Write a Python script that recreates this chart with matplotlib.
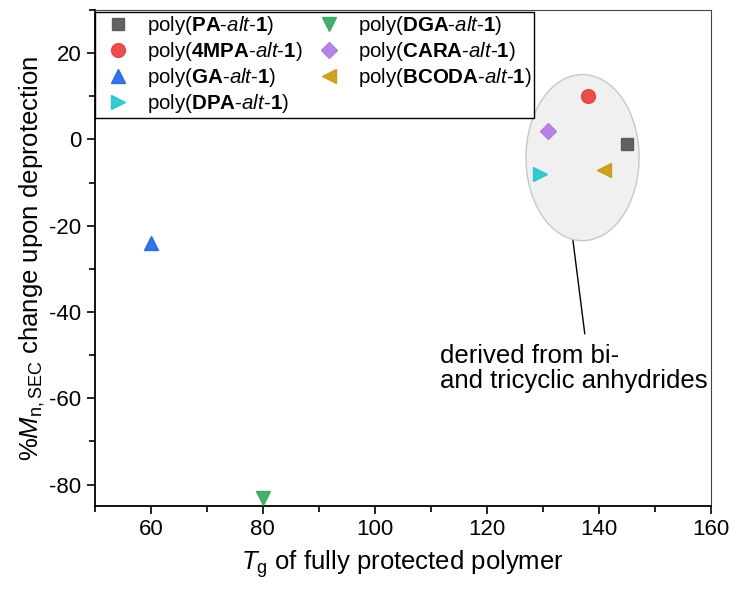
import matplotlib
matplotlib.use("Agg")
import matplotlib.pyplot as plt
from matplotlib.patches import Ellipse
from matplotlib.ticker import MultipleLocator

plt.rcParams['font.family'] = ['Liberation Sans', 'DejaVu Sans']
plt.rcParams['mathtext.fontset'] = 'custom'
plt.rcParams['mathtext.rm'] = 'Liberation Sans'
plt.rcParams['mathtext.it'] = 'Liberation Sans:italic'
plt.rcParams['mathtext.bf'] = 'Liberation Sans:bold'
plt.rcParams['axes.unicode_minus'] = False

# data
names = ['PA', '4MPA', 'GA', 'DPA', 'DGA', 'CARA', 'BCODA']
tg = [145, 138, 60, 129.5, 80, 131, 141]
mn_change = [-1, 10, -24, -8, -83, 2, -7]
markers = ['s', 'o', '^', '>', 'v', 'D', '<']
colors = ['#555555', '#e8403f', '#1f6ae0', '#22c8cc', '#35a862', '#b07be0', '#cc9a10']
sizes = [9, 10, 10, 10, 10, 8, 10]

fig = plt.figure(figsize=(7.35, 5.9), dpi=100)
ax = fig.add_axes([0.129, 0.142, 0.838, 0.841])

ell = Ellipse((137.1, -4.2), 20.2, 38.5, facecolor='#f0f0f0', edgecolor='#c8c8c8',
              linewidth=1, zorder=1)
ax.add_patch(ell)

for n, x, y, m, c, s in zip(names, tg, mn_change, markers, colors, sizes):
    ax.plot([x], [y], linestyle='none', marker=m, color=c, markersize=s,
            alpha=0.92, zorder=3,
            label=r'poly($\mathbf{' + n + r'}$-$\mathit{alt}$-$\mathbf{1}$)')

ax.plot([135.4, 137.5], [-23.5, -45], color='black', linewidth=1, zorder=2)
ax.text(111.6, -47.3, 'derived from bi-\nand tricyclic anhydrides', fontsize=18.5,
        va='top', ha='left', linespacing=1.1)

ax.set_xlim(50, 160)
ax.set_ylim(-85, 30)
ax.xaxis.set_minor_locator(MultipleLocator(10))
ax.yaxis.set_major_locator(MultipleLocator(20))
ax.yaxis.set_minor_locator(MultipleLocator(10))
ax.set_xticks([60, 80, 100, 120, 140, 160])
ax.tick_params(which='major', direction='out', length=6, width=1.2, labelsize=16,
               top=False, right=False)
ax.tick_params(which='minor', direction='out', length=4, width=1.2,
               top=False, right=False)
for side in ['left', 'bottom']:
    ax.spines[side].set_linewidth(1.3)
for side in ['top', 'right']:
    ax.spines[side].set_linewidth(0.8)
    ax.spines[side].set_color('#444444')

ax.set_xlabel(r'$T_\mathrm{g}$ of fully protected polymer', fontsize=18.5, labelpad=6)
ax.set_ylabel(r'%$M_\mathrm{n,SEC}$ change upon deprotection', fontsize=18.5, labelpad=2)

leg = ax.legend(ncol=2, loc='upper left', bbox_to_anchor=(0.0, 0.996), fontsize=14.8,
                frameon=True, fancybox=False, edgecolor='black', framealpha=1,
                borderpad=0.12, handletextpad=0.4, columnspacing=0.3, labelspacing=0.14,
                borderaxespad=0.0)
leg.get_frame().set_linewidth(1.0)

fig.savefig('out.png', dpi=100)
